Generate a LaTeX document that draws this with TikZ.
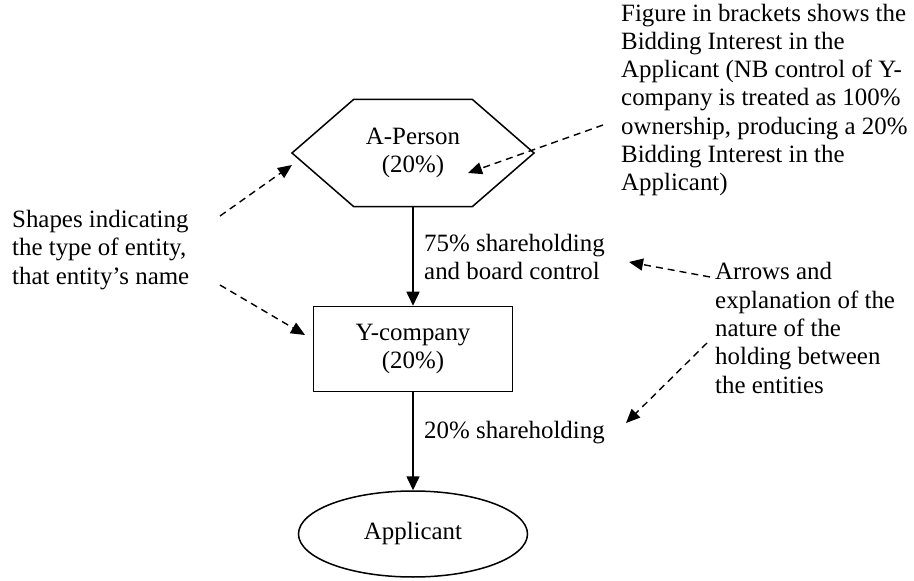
\documentclass[tikz,border=0pt]{standalone}
\usepackage{fontspec}
\setmainfont{Liberation Serif}
\usepackage{tikz}
\usetikzlibrary{arrows.meta,shapes,positioning}

\tikzset{every node/.style={font=\fontsize{24.9bp}{28.3bp}\selectfont, inner sep=0pt, align=center}}

\begin{document}
\begin{tikzpicture}[x=1bp,y=-1bp,
  hexa/.style={draw,line width=1.5bp,signal,signal to=east and west,signal pointer angle=82,minimum width=242bp,minimum height=107bp},
  firm/.style={draw,line width=1.5bp,rectangle,minimum width=199bp,minimum height=85bp},
  applic/.style={draw,line width=1.5bp,ellipse,minimum width=229bp,minimum height=86bp},
  note/.style={align=left,anchor=west},
  hold/.style={line width=1.6bp,-{Triangle[length=14bp,width=13bp]}},
  point/.style={line width=1.4bp,dash pattern=on 7bp off 5bp,-{Triangle[length=14bp,width=12bp]}}]
\useasboundingbox (0,0) rectangle (914,581);
%the entities
\node[hexa] (person) at (413,153) {A-Person\\(20\%)};
\node[firm] (ycomp) at (413,349) {Y-company\\(20\%)};
\node[applic] (appl) at (413,534) {Applicant};
%holdings between them
\draw[hold] (person.south) -- (ycomp.north);
\draw[hold] (ycomp.south) -- (appl.north);
\node[note] (share75) at (424,257) {75\% shareholding\\and board control};
\node[note] (share20) at (424,433) {20\% shareholding};
%the notes
\node[note] (shapes) at (12,250) {Shapes indicating\\the type of entity,\\that entity's name};
\node[note] (figure) at (621,100) {Figure in brackets shows the\\Bidding Interest in the\\Applicant (NB control of Y-\\company is treated as 100\%\\ownership, producing a 20\%\\Bidding Interest in the\\Applicant)};
\node[note] (arrows) at (715,328) {Arrows and\\explanation of the\\nature of the\\holding between\\the entities};
%pointers from the notes
\coordinate (s1) at (220,216); \coordinate (t1) at (292,165);
\coordinate (s2) at (220,285); \coordinate (t2) at (305,335);
\coordinate (s3) at (603,125); \coordinate (t3) at (468,173);
\coordinate (s4) at (710,277); \coordinate (t4) at (629,262);
\coordinate (s5) at (707,343); \coordinate (t5) at (626,423);
\draw[point] (s1) -- (t1); \draw[point] (s2) -- (t2);
\draw[point] (s3) -- (t3);
\draw[point] (s4) -- (t4); \draw[point] (s5) -- (t5);
\end{tikzpicture}
\end{document}
